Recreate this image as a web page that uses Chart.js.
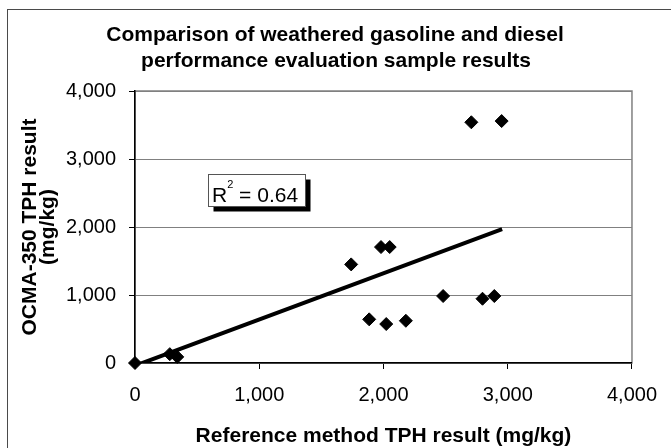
<!DOCTYPE html>
<html>
<head>
<meta charset="utf-8">
<script src="https://cdn.jsdelivr.net/npm/chart.js@4"></script>
<style>
  html, body { margin: 0; padding: 0; background: #fff; }
  #wrap { width: 671px; height: 448px; }
</style>
</head>
<body>
<div id="wrap"><canvas id="c" width="671" height="448"></canvas></div>
<script>
// ---- data ----
const titleLines = ['Comparison of weathered gasoline and diesel', 'performance evaluation sample results'];
const xAxisTitle = 'Reference method TPH result (mg/kg)';
const yAxisTitle = ['OCMA-350 TPH result', '(mg/kg)'];
const xValues = [0, 280, 340, 1740, 1980, 2050, 1885, 2022, 2180, 2480, 2797, 2892, 2707, 2951];
const yValues = [0, 130, 90, 1450, 1705, 1705, 642, 573, 621, 985, 945, 985, 3540, 3558];
const trendX = [0, 2955];
const trendY = [-40, 1968];
const xTickLabels = ['0', '1,000', '2,000', '3,000', '4,000'];
const yTickLabels = ['0', '1,000', '2,000', '3,000', '4,000'];
const r2Text = { main: 'R', sup: '2', rest: ' = 0.64' };

const FONT = 'Arial, "Liberation Sans", sans-serif';

const points = xValues.map((x, i) => ({ x: x, y: yValues[i] }));
const trend = trendX.map((x, i) => ({ x: x, y: trendY[i] }));

const framePlugin = {
  id: 'frame',
  beforeDraw(chart) {
    const ctx = chart.ctx;
    const a = chart.chartArea;
    ctx.save();
    ctx.fillStyle = '#fff';
    ctx.fillRect(0, 0, chart.width, chart.height);
    // outer chart border (cropped at right/bottom)
    ctx.strokeStyle = '#4a4a4a';
    ctx.lineWidth = 1;
    ctx.strokeRect(7.5, 9.5, 800, 600);
    // plot area border (gray)
    ctx.strokeStyle = '#808080';
    ctx.lineWidth = 1.5;
    ctx.strokeRect(a.left, a.top, a.right - a.left, a.bottom - a.top);
    // main title
    ctx.fillStyle = '#000';
    ctx.font = 'bold 21px ' + FONT;
    ctx.textAlign = 'center';
    ctx.textBaseline = 'alphabetic';
    ctx.fillText(titleLines[0], 335, 41);
    ctx.fillText(titleLines[1], 336, 67);
    ctx.restore();
  }
};

const r2Plugin = {
  id: 'r2box',
  afterDatasetsDraw(chart) {
    const ctx = chart.ctx;
    const xs = chart.scales.x, ys = chart.scales.y;
    const left = Math.round(xs.getPixelForValue(587)) + 0.5;
    const top = Math.round(ys.getPixelForValue(2786)) + 0.5;
    const w = 97, h = 32;
    ctx.save();
    ctx.fillStyle = '#000';
    ctx.fillRect(left + 5, top + 5, w, h);
    ctx.fillStyle = '#fff';
    ctx.fillRect(left, top, w, h);
    ctx.strokeStyle = '#555';
    ctx.lineWidth = 1;
    ctx.strokeRect(left, top, w, h);
    ctx.fillStyle = '#000';
    ctx.textAlign = 'left';
    ctx.textBaseline = 'alphabetic';
    ctx.font = '21px ' + FONT;
    let tx = left + 3.5;
    const by = top + 27;
    ctx.fillText(r2Text.main, tx, by);
    tx += ctx.measureText(r2Text.main).width;
    ctx.font = '11px ' + FONT;
    ctx.fillText(r2Text.sup, tx, top + 13.5);
    tx += ctx.measureText(r2Text.sup).width;
    ctx.font = '21px ' + FONT;
    ctx.fillText(r2Text.rest, tx, by);
    ctx.restore();
  }
};

new Chart(document.getElementById('c'), {
  type: 'scatter',
  data: {
    datasets: [
      {
        label: 'Samples',
        data: points,
        pointStyle: 'rectRot',
        pointRadius: 6.5,
        pointHoverRadius: 6.5,
        backgroundColor: '#000',
        borderColor: '#000',
        borderWidth: 1,
        clip: false,
        order: 2
      },
      {
        label: 'Trend',
        type: 'line',
        data: trend,
        showLine: true,
        borderColor: '#000',
        borderWidth: 4,
        pointRadius: 0,
        fill: false,
        order: 1
      }
    ]
  },
  plugins: [framePlugin, r2Plugin],
  options: {
    responsive: false,
    animation: false,
    devicePixelRatio: 1,
    layout: { padding: { top: 91, right: 30, bottom: 0, left: 0 } },
    plugins: {
      legend: { display: false },
      title: { display: false },
      tooltip: { enabled: false }
    },
    scales: {
      x: {
        type: 'linear',
        min: 0, max: 4000,
        afterFit(scale) { scale.height = 85; },
        ticks: {
          stepSize: 1000,
          padding: 14,
          color: '#000',
          font: { family: FONT, size: 20 },
          maxRotation: 0,
          callback: (v, i) => xTickLabels[i]
        },
        grid: { drawOnChartArea: false, drawTicks: true, tickLength: 6, tickColor: '#000', tickWidth: 1 },
        border: { display: true, color: '#000', width: 1.5 },
        title: {
          display: true,
          text: xAxisTitle,
          color: '#000',
          font: { family: FONT, size: 21, weight: 'bold', lineHeight: 1 },
          padding: { top: 0, bottom: 1 }
        }
      },
      y: {
        type: 'linear',
        min: 0, max: 4000,
        afterFit(scale) { scale.width = 135; },
        ticks: {
          stepSize: 1000,
          padding: 13,
          color: '#000',
          font: { family: FONT, size: 20 },
          callback: (v, i) => yTickLabels[i]
        },
        grid: { color: '#808080', lineWidth: 1, drawTicks: true, tickLength: 6, tickColor: '#000', tickWidth: 1 },
        border: { display: true, color: '#000', width: 1.5 },
        title: {
          display: true,
          text: yAxisTitle,
          color: '#000',
          font: { family: FONT, size: 21, weight: 'bold', lineHeight: 0.85 },
          padding: { top: 21, bottom: 0 }
        }
      }
    }
  }
});
</script>
</body>
</html>
